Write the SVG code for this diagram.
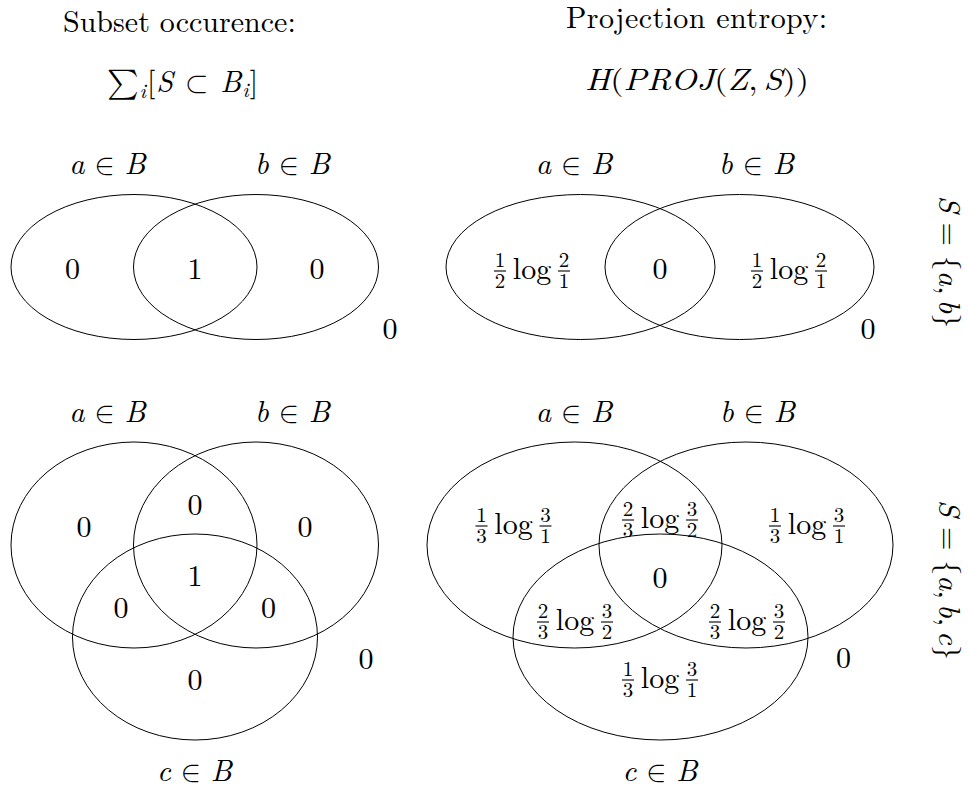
<svg xmlns="http://www.w3.org/2000/svg" width="968" height="789" viewBox="0 0 968 789">
<style>
text{fill:#000;font-family:'Latin Modern Roman',serif;}
.t{font-size:30px;}
.m{font-size:30px;text-anchor:middle;}
.f{font-size:21px;text-anchor:middle;}
.i{font-style:italic;}
.s{font-family:'Latin Modern Math','Latin Modern Roman',serif;font-style:normal;}
ellipse{fill:none;stroke:#000;stroke-width:1;}
line{stroke:#000;stroke-width:1.1;}
</style>
<rect width="968" height="789" fill="#fff"/>
<g id="headers">
<text class="t" x="63" y="32">Subset occurence:</text>
<text class="t" x="566" y="28" textLength="261" lengthAdjust="spacing">Projection entropy:</text>
<text class="t" x="107" y="92" textLength="151" lengthAdjust="spacing"><tspan class="s">∑</tspan><tspan class="i" font-size="21" dy="6">i</tspan><tspan dy="-6">[</tspan><tspan class="i">S</tspan> <tspan class="s">⊂</tspan> <tspan class="i">B</tspan><tspan class="i" font-size="21" dy="5">i</tspan><tspan dy="-5">]</tspan></text>
<text class="t" x="585" y="90" textLength="224" lengthAdjust="spacingAndGlyphs"><tspan class="i">H</tspan>(<tspan class="i">PROJ</tspan>(<tspan class="i">Z</tspan>,<tspan class="i" dx="5">S</tspan>))</text>
<text class="t" transform="translate(939,262) rotate(90)" text-anchor="middle"><tspan class="i">S</tspan> = {<tspan class="i">a</tspan>,<tspan class="i" dx="5">b</tspan>}</text>
<text class="t" transform="translate(939,580) rotate(90)" text-anchor="middle"><tspan class="i">S</tspan> = {<tspan class="i">a</tspan>,<tspan class="i" dx="5">b</tspan>,<tspan class="i" dx="5">c</tspan>}</text>
</g>
<g id="venn-top-left">
<ellipse id="tl-a" cx="134" cy="267" rx="123" ry="72.5"/>
<ellipse id="tl-b" cx="256" cy="267" rx="122.5" ry="72.5"/>
<text class="m" x="107.5" y="174"><tspan class="i">a</tspan> <tspan class="s">∈</tspan> <tspan class="i">B</tspan></text>
<text class="m" x="292.5" y="174"><tspan class="i">b</tspan> <tspan class="s">∈</tspan> <tspan class="i">B</tspan></text>
<text class="m" x="72.5" y="279">0</text>
<text class="m" x="195" y="279">1</text>
<text class="m" x="317" y="279">0</text>
<text class="m" x="390" y="339">0</text>
</g>
<g id="venn-top-right">
<ellipse id="tr-a" cx="580.5" cy="267" rx="134.5" ry="72.5"/>
<ellipse id="tr-b" cx="739.5" cy="267" rx="134.5" ry="72.5"/>
<text class="m" x="574" y="174"><tspan class="i">a</tspan> <tspan class="s">∈</tspan> <tspan class="i">B</tspan></text>
<text class="m" x="756.5" y="174"><tspan class="i">b</tspan> <tspan class="s">∈</tspan> <tspan class="i">B</tspan></text>
<g id="tr-l">
<text class="f" x="500" y="267">1</text><line x1="494" x2="506" y1="271" y2="271"/><text class="f" x="500" y="288">2</text>
<text class="m" x="532" y="279">log</text>
<text class="f" x="564" y="267">2</text><line x1="558" x2="570" y1="271" y2="271"/><text class="f" x="564" y="288">1</text>
</g>
<text class="m" x="660" y="279">0</text>
<g id="tr-r">
<text class="f" x="757" y="267">1</text><line x1="751" x2="763" y1="271" y2="271"/><text class="f" x="757" y="288">2</text>
<text class="m" x="789" y="279">log</text>
<text class="f" x="821" y="267">2</text><line x1="815" x2="827" y1="271" y2="271"/><text class="f" x="821" y="288">1</text>
</g>
<text class="m" x="868" y="339">0</text>
</g>
<g id="venn-bottom-left">
<ellipse id="bl-a" cx="134" cy="545" rx="123" ry="103"/>
<ellipse id="bl-b" cx="256" cy="545" rx="122.5" ry="103"/>
<ellipse id="bl-c" cx="195" cy="637" rx="122.5" ry="103"/>
<text class="m" x="107.5" y="422"><tspan class="i">a</tspan> <tspan class="s">∈</tspan> <tspan class="i">B</tspan></text>
<text class="m" x="292.5" y="422"><tspan class="i">b</tspan> <tspan class="s">∈</tspan> <tspan class="i">B</tspan></text>
<text class="m" x="194.5" y="781"><tspan class="i">c</tspan> <tspan class="s">∈</tspan> <tspan class="i">B</tspan></text>
<text class="m" x="84" y="537">0</text>
<text class="m" x="195" y="515">0</text>
<text class="m" x="305" y="537">0</text>
<text class="m" x="195" y="586">1</text>
<text class="m" x="121" y="618">0</text>
<text class="m" x="268.5" y="618">0</text>
<text class="m" x="195" y="690">0</text>
<text class="m" x="366" y="669">0</text>
</g>
<g id="venn-bottom-right">
<ellipse id="br-a" cx="574.5" cy="545" rx="147.5" ry="103"/>
<ellipse id="br-b" cx="746" cy="545" rx="147" ry="103"/>
<ellipse id="br-c" cx="660.5" cy="637" rx="147.5" ry="103"/>
<text class="m" x="574" y="422"><tspan class="i">a</tspan> <tspan class="s">∈</tspan> <tspan class="i">B</tspan></text>
<text class="m" x="757.5" y="422"><tspan class="i">b</tspan> <tspan class="s">∈</tspan> <tspan class="i">B</tspan></text>
<text class="m" x="660" y="781"><tspan class="i">c</tspan> <tspan class="s">∈</tspan> <tspan class="i">B</tspan></text>
<g id="br-a-only">
<text class="f" x="481.5" y="522">1</text><line x1="475.5" x2="487.5" y1="526" y2="526"/><text class="f" x="481.5" y="543">3</text>
<text class="m" x="513.5" y="534">log</text>
<text class="f" x="545.5" y="522">3</text><line x1="539.5" x2="551.5" y1="526" y2="526"/><text class="f" x="545.5" y="543">1</text>
</g>
<g id="br-ab">
<text class="f" x="628" y="516">2</text><line x1="622" x2="634" y1="520" y2="520"/><text class="f" x="628" y="537">3</text>
<text class="m" x="660" y="528">log</text>
<text class="f" x="692" y="516">3</text><line x1="686" x2="698" y1="520" y2="520"/><text class="f" x="692" y="537">2</text>
</g>
<g id="br-b-only">
<text class="f" x="775" y="522">1</text><line x1="769" x2="781" y1="526" y2="526"/><text class="f" x="775" y="543">3</text>
<text class="m" x="807" y="534">log</text>
<text class="f" x="839" y="522">3</text><line x1="833" x2="845" y1="526" y2="526"/><text class="f" x="839" y="543">1</text>
</g>
<text class="m" x="660" y="588">0</text>
<g id="br-ac">
<text class="f" x="543" y="618">2</text><line x1="537" x2="549" y1="622" y2="622"/><text class="f" x="543" y="639">3</text>
<text class="m" x="575" y="630">log</text>
<text class="f" x="607" y="618">3</text><line x1="601" x2="613" y1="622" y2="622"/><text class="f" x="607" y="639">2</text>
</g>
<g id="br-bc">
<text class="f" x="715" y="618">2</text><line x1="709" x2="721" y1="622" y2="622"/><text class="f" x="715" y="639">3</text>
<text class="m" x="747" y="630">log</text>
<text class="f" x="779" y="618">3</text><line x1="773" x2="785" y1="622" y2="622"/><text class="f" x="779" y="639">2</text>
</g>
<g id="br-c-only">
<text class="f" x="628" y="676">1</text><line x1="622" x2="634" y1="680" y2="680"/><text class="f" x="628" y="697">3</text>
<text class="m" x="660" y="688">log</text>
<text class="f" x="692" y="676">3</text><line x1="686" x2="698" y1="680" y2="680"/><text class="f" x="692" y="697">1</text>
</g>
<text class="m" x="843.5" y="668">0</text>
</g>
<g id="connectors"/>
</svg>
